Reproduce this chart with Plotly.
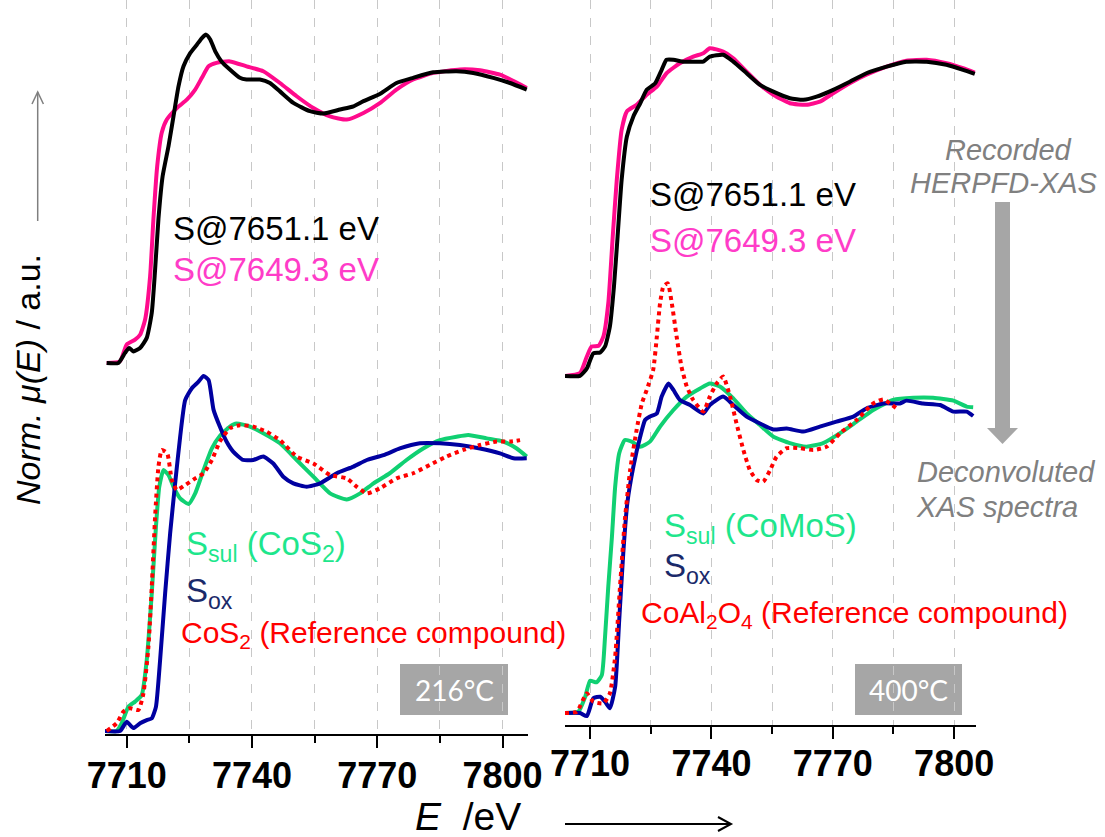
import plotly.graph_objects as go

W, H = 1105, 837

# ---------------- DATA (energy in eV, normalised mu(E)) ----------------
# Left panel (216 °C) – recorded HERPFD-XAS (top)
L_black_E = [7705.2, 7708.0, 7709.6, 7710.6, 7711.6, 7713.2, 7714.8, 7716.0, 7716.8, 7717.6, 7718.6, 7720.0,
             7721.2, 7722.4, 7723.6, 7725.2, 7726.8, 7728.0, 7729.0, 7730.0, 7731.2, 7732.7, 7734.7, 7737.1,
             7738.7, 7741.9, 7744.3, 7746.7, 7749.9, 7753.9, 7757.1, 7761.1, 7764.3, 7766.7, 7770.7, 7774.6,
             7778.6, 7783.4, 7789.0, 7793.0, 7797.8, 7801.8, 7805.8]
L_black_mu = [0.0, 0.0, 0.035, 0.052, 0.04, 0.052, 0.087, 0.174, 0.324, 0.50, 0.648, 0.752,
              0.856, 0.96, 1.03, 1.076, 1.105, 1.128, 1.14, 1.123, 1.082, 1.047, 1.019, 0.99,
              0.984, 0.984, 0.972, 0.943, 0.903, 0.874, 0.866, 0.88, 0.891, 0.909, 0.935, 0.972,
              0.99, 1.009, 1.013, 1.007, 0.99, 0.972, 0.949]
L_pink_E = [7705.2, 7708.4, 7710.0, 7712.0, 7713.2, 7714.4, 7715.6, 7716.4, 7717.3, 7718.4, 7719.6, 7722.0,
            7724.4, 7726.4, 7728.0, 7729.6, 7731.5, 7734.7, 7738.7, 7742.7, 7746.7, 7750.7, 7754.7, 7758.7,
            7762.7, 7766.7, 7770.7, 7774.6, 7778.6, 7783.4, 7789.8, 7794.6, 7799.4, 7805.8]
L_pink_mu = [0.0, 0.006, 0.064, 0.081, 0.098, 0.15, 0.30, 0.50, 0.683, 0.80, 0.845, 0.885,
             0.914, 0.949, 0.99, 1.03, 1.042, 1.047, 1.03, 1.013, 0.972, 0.926, 0.885, 0.856,
             0.845, 0.868, 0.903, 0.949, 0.984, 1.007, 1.019, 1.016, 1.001, 0.955]
# Left panel – deconvoluted spectra (bottom)
L_ox_E = [7704.8, 7708.4, 7710.0, 7711.6, 7713.2, 7714.8, 7716.0, 7717.0, 7718.0, 7719.2, 7720.4, 7721.6,
          7722.8, 7724.0, 7725.6, 7727.2, 7728.4, 7729.6, 7730.8, 7732.3, 7733.9, 7735.5, 7737.9, 7740.3,
          7742.7, 7745.1, 7747.5, 7749.9, 7753.1, 7756.3, 7760.3, 7764.3, 7767.5, 7771.5, 7775.4, 7780.2,
          7785.0, 7789.8, 7794.6, 7799.4, 7802.6, 7805.8]
L_ox_mu = [0.0, 0.0, 0.032, 0.01, 0.027, 0.038, 0.044, 0.084, 0.247, 0.478, 0.686, 0.86,
           1.022, 1.149, 1.19, 1.213, 1.233, 1.219, 1.115, 1.057, 1.005, 0.97, 0.941, 0.941,
           0.953, 0.929, 0.883, 0.86, 0.848, 0.86, 0.895, 0.918, 0.941, 0.958, 0.981, 0.999,
           0.999, 0.993, 0.981, 0.964, 0.947, 0.947]
L_sul_E = [7704.8, 7707.6, 7708.8, 7710.4, 7712.0, 7713.6, 7714.8, 7716.0, 7717.0, 7717.8, 7718.8, 7720.0,
           7721.2, 7722.8, 7724.8, 7726.4, 7728.4, 7730.4, 7732.3, 7734.7, 7736.3, 7739.5, 7742.7, 7746.7,
           7750.7, 7754.7, 7758.7, 7762.7, 7765.9, 7769.1, 7773.0, 7777.0, 7781.0, 7785.0, 7789.0, 7791.8,
           7796.2, 7800.2, 7803.4, 7805.8]
L_sul_mu = [0.0, 0.0, 0.027, 0.084, 0.102, 0.125, 0.247, 0.478, 0.709, 0.848, 0.906, 0.889,
            0.848, 0.808, 0.788, 0.825, 0.906, 0.981, 1.024, 1.057, 1.068, 1.057, 1.034, 0.999,
            0.941, 0.883, 0.825, 0.804, 0.825, 0.86, 0.895, 0.941, 0.981, 1.01, 1.022, 1.028,
            1.016, 1.005, 0.981, 0.953]
L_ref_E = [7705.2, 7707.6, 7709.2, 7710.8, 7712.8, 7714.0, 7715.2, 7716.0, 7716.8, 7717.6, 7718.4, 7719.7,
           7720.8, 7722.0, 7724.0, 7726.4, 7728.4, 7730.4, 7732.3, 7734.7, 7737.1, 7740.3, 7743.5, 7746.7,
           7750.7, 7754.7, 7758.7, 7762.7, 7765.1, 7767.5, 7770.7, 7774.6, 7778.6, 7782.6, 7786.6, 7790.6,
           7794.6, 7798.6, 7801.8, 7804.2]
L_ref_mu = [0.0, 0.027, 0.067, 0.079, 0.073, 0.131, 0.293, 0.501, 0.744, 0.918, 0.976, 0.964,
            0.872, 0.837, 0.854, 0.877, 0.895, 0.941, 1.005, 1.051, 1.062, 1.057, 1.039, 1.01,
            0.953, 0.929, 0.889, 0.877, 0.848, 0.825, 0.843, 0.877, 0.895, 0.924, 0.953, 0.976,
            0.993, 1.005, 1.005, 1.01]

# Right panel (400 °C) – recorded HERPFD-XAS (top)
R_black_E = [7703.8, 7707.5, 7709.2, 7710.8, 7712.5, 7713.7, 7714.9, 7715.9, 7716.8, 7717.8, 7719.1, 7720.7,
             7722.4, 7724.0, 7726.1, 7727.7, 7728.9, 7730.6, 7733.1, 7735.5, 7738.0, 7739.6, 7742.9, 7745.4,
             7748.7, 7752.0, 7755.3, 7759.4, 7762.7, 7766.0, 7770.1, 7774.2, 7778.3, 7783.3, 7788.2, 7793.2,
             7798.1, 7802.2, 7805.1]
R_black_mu = [0.0, 0.0, 0.024, 0.072, 0.075, 0.094, 0.158, 0.285, 0.445, 0.626, 0.765, 0.829,
              0.871, 0.914, 0.935, 0.978, 1.01, 1.01, 1.004, 1.004, 1.004, 1.02, 1.026, 1.004,
              0.967, 0.93, 0.908, 0.887, 0.882, 0.892, 0.914, 0.94, 0.967, 0.988, 1.004, 1.004,
              0.994, 0.978, 0.965]
R_pink_E = [7703.8, 7707.5, 7709.2, 7710.4, 7712.1, 7713.3, 7714.5, 7715.6, 7716.6, 7717.8, 7719.1, 7721.5,
            7724.0, 7726.5, 7728.9, 7732.2, 7735.5, 7738.0, 7739.6, 7742.9, 7745.4, 7748.7, 7752.0, 7755.3,
            7759.4, 7763.5, 7766.8, 7770.1, 7774.2, 7778.3, 7783.3, 7788.2, 7793.2, 7798.1, 7802.2, 7805.1]
R_pink_mu = [0.0, 0.009, 0.062, 0.094, 0.096, 0.126, 0.232, 0.445, 0.626, 0.786, 0.845, 0.866,
             0.898, 0.924, 0.967, 0.999, 1.02, 1.031, 1.047, 1.036, 1.015, 0.972, 0.93, 0.898,
             0.871, 0.866, 0.876, 0.903, 0.935, 0.962, 0.988, 1.007, 1.01, 0.999, 0.983, 0.969]
# Right panel – deconvoluted spectra (bottom)
R_sul_E = [7703.8, 7707.1, 7708.8, 7710.0, 7711.6, 7712.9, 7713.7, 7714.5, 7715.4, 7716.2, 7717.2, 7718.6,
           7720.3, 7722.4, 7724.8, 7727.3, 7730.6, 7733.9, 7737.2, 7739.6, 7742.1, 7745.4, 7748.7, 7752.0,
           7755.3, 7759.4, 7763.5, 7767.6, 7771.8, 7775.9, 7780.0, 7784.9, 7789.9, 7794.8, 7799.8, 7803.1,
           7804.7]
R_sul_mu = [0.0, 0.004, 0.052, 0.103, 0.098, 0.121, 0.244, 0.404, 0.563, 0.723, 0.83, 0.872,
            0.867, 0.851, 0.867, 0.915, 0.968, 1.011, 1.037, 1.053, 1.043, 1.005, 0.957, 0.92,
            0.883, 0.862, 0.851, 0.862, 0.894, 0.931, 0.968, 1.0, 1.007, 1.007, 0.998, 0.979,
            0.977]
R_ox_E = [7703.8, 7707.5, 7709.2, 7710.8, 7712.5, 7713.7, 7714.9, 7716.2, 7717.2, 7718.2, 7719.2, 7720.7,
          7722.4, 7723.6, 7724.8, 7726.5, 7727.7, 7729.4, 7730.6, 7732.2, 7734.7, 7738.0, 7739.6, 7742.9,
          7745.4, 7748.7, 7752.0, 7755.3, 7758.6, 7762.7, 7766.8, 7770.9, 7775.1, 7778.3, 7782.5, 7786.6,
          7788.2, 7792.3, 7796.5, 7799.8, 7803.1, 7804.7]
R_ox_mu = [0.0, 0.0, -0.01, 0.047, 0.052, 0.036, 0.015, 0.084, 0.297, 0.51, 0.67, 0.787,
           0.883, 0.936, 0.947, 0.957, 1.011, 1.053, 1.032, 1.0, 0.984, 0.957, 0.984, 1.011,
           0.984, 0.947, 0.925, 0.906, 0.909, 0.899, 0.915, 0.931, 0.947, 0.973, 0.989, 0.989,
           0.998, 0.989, 0.984, 0.963, 0.963, 0.949]
R_ref_E = [7703.8, 7706.7, 7709.2, 7710.8, 7713.3, 7714.9, 7716.2, 7717.4, 7718.6, 7719.9, 7721.5, 7722.8,
           7724.0, 7725.6, 7726.5, 7727.3, 7728.1, 7729.2, 7730.2, 7731.4, 7732.6, 7733.9, 7735.5, 7738.0,
           7739.6, 7741.3, 7742.9, 7744.6, 7746.2, 7747.9, 7749.5, 7751.2, 7752.8, 7754.5, 7756.1, 7758.6,
           7761.9, 7765.2, 7768.5, 7771.8, 7775.9, 7780.0, 7782.5, 7784.1, 7785.8]
R_ref_mu = [0.0, 0.004, 0.063, 0.036, 0.031, 0.063, 0.18, 0.404, 0.617, 0.776, 0.904, 0.989,
            1.032, 1.096, 1.202, 1.309, 1.362, 1.373, 1.309, 1.202, 1.106, 1.043, 1.0, 0.963,
            1.011, 1.053, 1.075, 1.011, 0.925, 0.84, 0.776, 0.744, 0.739, 0.776, 0.819, 0.846,
            0.846, 0.84, 0.851, 0.894, 0.936, 0.989, 1.002, 0.989, 0.973]

tick_values = [7710, 7740, 7770, 7800]
tick_labels = ["7710", "7740", "7770", "7800"]
top_offset_left = 1.278
top_offset_right = 1.077

# ---------------- STYLE ----------------
C_BLACK = "#000000"
C_PINK = "#ff0a8c"
C_BLUE = "#0000a0"
C_GREEN = "#10d072"
C_RED = "#ff0000"
FONT = "Liberation Sans, Arial, sans-serif"


def px(x):
    return x / W


def py(y):
    return 1 - y / H


fig = go.Figure()


def add(E, mu, color, xa, ya, offset=0.0, dotted=False):
    fig.add_trace(go.Scatter(
        x=E, y=[m + offset for m in mu], mode="lines",
        line=dict(color=color, width=4, dash="4px,4px" if dotted else "solid",
                  shape="spline", smoothing=0.5),
        xaxis=xa, yaxis=ya, showlegend=False, hoverinfo="skip"))


# left panel
add(L_pink_E, L_pink_mu, C_PINK, "x", "y", top_offset_left)
add(L_black_E, L_black_mu, C_BLACK, "x", "y", top_offset_left)
add(L_sul_E, L_sul_mu, C_GREEN, "x", "y")
add(L_ox_E, L_ox_mu, C_BLUE, "x", "y")
add(L_ref_E, L_ref_mu, C_RED, "x", "y", dotted=True)
# right panel
add(R_pink_E, R_pink_mu, C_PINK, "x2", "y2", top_offset_right)
add(R_black_E, R_black_mu, C_BLACK, "x2", "y2", top_offset_right)
add(R_sul_E, R_sul_mu, C_GREEN, "x2", "y2")
add(R_ox_E, R_ox_mu, C_BLUE, "x2", "y2")
add(R_ref_E, R_ref_mu, C_RED, "x2", "y2", dotted=True)

xcommon = dict(
    showline=True, linecolor="black", linewidth=2, mirror=False, automargin=False,
    ticks="outside", ticklen=12, tickwidth=2, tickcolor="black",
    tickvals=tick_values, ticktext=tick_labels,
    tickfont=dict(family=FONT, size=36, color="black", weight="bold"),
    showgrid=True, gridcolor="#c8c8c8", griddash="dash", gridwidth=1,
    zeroline=False,
    minor=dict(tick0=7710, dtick=15, ticks="outside", ticklen=7, tickwidth=2, tickcolor="black",
               showgrid=True, gridcolor="#c8c8c8", griddash="dash", gridwidth=1),
)
ycommon = dict(visible=False, showgrid=False, zeroline=False, automargin=False)

fig.update_layout(
    template="none",
    width=W, height=H, margin=dict(l=0, r=0, t=0, b=0, pad=0, autoexpand=False),
    paper_bgcolor="white", plot_bgcolor="white",
    xaxis=dict(domain=[px(105), px(528)], range=[7704.8, 7806.1], anchor="y",
               ticklabelstandoff=-3, **xcommon),
    yaxis=dict(domain=[py(734), 1], range=[-3 / 288, -3 / 288 + 734 / 288], anchor="x", **ycommon),
    xaxis2=dict(domain=[px(565), px(976)], range=[7703.8, 7805.4], anchor="y2",
                ticklabelstandoff=-6, **xcommon),
    yaxis2=dict(domain=[py(725), 1], range=[-12 / 313, -12 / 313 + 725 / 313], anchor="x2", **ycommon),
)

ann = []


def text(x, y, s, size, color, xanchor="left", angle=0, family=FONT):
    ann.append(dict(x=px(x), y=py(y), xref="paper", yref="paper", text=s, showarrow=False,
                    xanchor=xanchor, yanchor="middle", textangle=angle,
                    font=dict(family=family, size=size, color=color)))


# legends left
text(171, 228, "S@7651.1 eV", 33, "#000000")
text(171, 270, "S@7649.3 eV", 33, "#ff3cc8")
text(184, 546, "S<sub>sul</sub> (CoS<sub>2</sub>)", 33, "#1ee68c")
text(184, 593, "S<sub>ox</sub>", 33, "#1a2a6a")
text(179, 634, "CoS<sub>2</sub> (Reference compound)", 30, "#ff0000")
# legends right
text(662, 528, "S<sub>sul</sub> (CoMoS)", 33, "#1ee68c")
text(662, 568, "S<sub>ox</sub>", 33, "#1a2a6a")
text(648, 195, "S@7651.1 eV", 33, "#000000")
text(648, 240, "S@7649.3 eV", 33, "#ff3cc8")
text(639, 614, "CoAl<sub>2</sub>O<sub>4</sub> (Reference compound)", 30, "#ff0000")
# right side annotations
text(1008, 150, "<i>Recorded</i>", 29, "#808080", xanchor="center")
text(1004, 183, "<i>HERPFD-XAS</i>", 29, "#808080", xanchor="center")
text(1006, 472, "<i>Deconvoluted</i>", 29, "#808080", xanchor="center")
text(914, 507, "<i>XAS spectra</i>", 29, "#808080", xanchor="left")
# temperature boxes
text(454, 690, "216°C", 28, "white", xanchor="center", family="Lato, sans-serif")
text(908, 690, "400°C", 28, "white", xanchor="center", family="Lato, sans-serif")
# axis titles
text(468, 816, "<i>E</i>&nbsp; /eV", 39, "black", xanchor="center")
text(28, 380, "<i>Norm. μ(E)</i> / a.u.", 34, "black", xanchor="center", angle=-90)

shapes = []


def rect(x0, y0, x1, y1, color):
    shapes.append(dict(type="rect", xref="paper", yref="paper", x0=px(x0), x1=px(x1), y0=py(y1), y1=py(y0),
                       fillcolor=color, line=dict(width=0), layer="below"))


def path(points, color, width, fill=None, closed=False):
    d = "M " + " L ".join(f"{px(a)},{py(b)}" for a, b in points)
    if closed:
        d += " Z"
    s = dict(type="path", xref="paper", yref="paper", path=d, line=dict(color=color, width=width))
    if fill:
        s["fillcolor"] = fill
    shapes.append(s)


rect(400, 664, 508, 715, "#a6a6a6")
rect(855, 664, 962, 715, "#a6a6a6")
# big gray arrow
path([(995, 202), (1010, 202), (1010, 428), (1018, 428), (1002.5, 444), (987, 428), (995, 428)],
     "#a6a6a6", 0, fill="#a6a6a6", closed=True)
# bottom arrow
path([(565, 824), (731, 824)], "black", 2)
path([(718, 817), (731, 824), (718, 831)], "black", 2)
# left vertical arrow
path([(37.7, 221), (37.7, 92)], "#7f7f7f", 1.5)
path([(32, 104), (37.7, 92), (43.4, 104)], "#7f7f7f", 1.5)

fig.update_layout(annotations=ann, shapes=shapes)
fig.write_html("out.html")
